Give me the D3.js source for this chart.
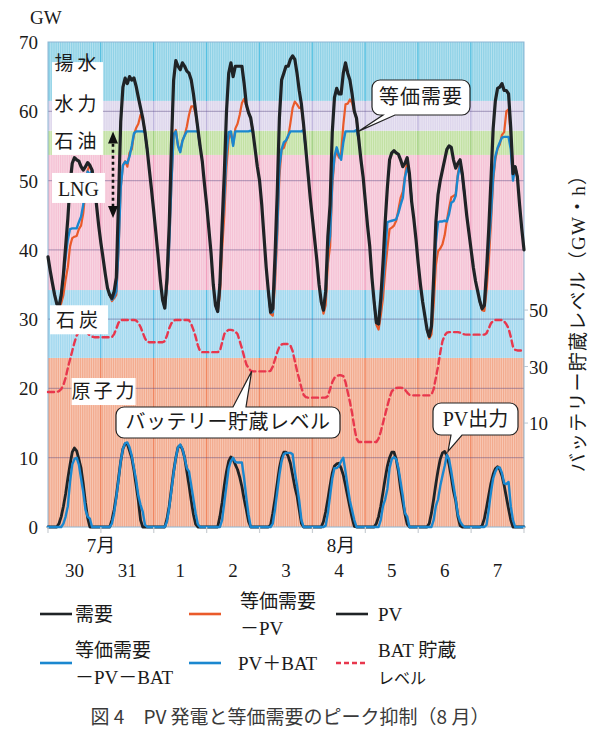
<!DOCTYPE html>
<html>
<head>
<meta charset="utf-8">
<script src="https://cdn.jsdelivr.net/npm/d3@7"></script>
<style>
  body { margin: 0; background: #fff; }
  text { font-family: "Liberation Serif", "Times New Roman", "Noto Sans CJK JP", serif; fill: #1a1a1a; }
</style>
</head>
<body>
<svg id="chart" width="599" height="729"></svg>
<script>
// ---- data (hourly, Jul 30 0:00 .. Aug 7 24:00) ----
var dayLabels = ["30", "31", "1", "2", "3", "4", "5", "6", "7"];
var monthLabels = ["7月", "8月"];
var leftTicks = [0, 10, 20, 30, 40, 50, 60, 70];
var rightTicks = [10, 30, 50];

// supply layers (GW, upper edge of each)
var bandNames = ["原子力", "石炭", "LNG", "石油", "水力", "揚水"];
var bandTops = [24.4, 34.2, 53.7, 57.2, 61.5, 70];

// 需要 (GW), one value per hour
var demand = [
  39.0,37.0,35.2,33.5,32.2,31.8,33.5,36.5,40.5,44.5,49.5,52.5,53.3,53.0,52.8,52.0,51.5,52.0,52.6,52.2,51.5,49.5,46.5,43.5,
  41.0,38.8,36.5,34.5,33.5,33.0,34.0,36.0,47.0,58.5,63.5,64.8,64.0,65.0,64.5,64.8,63.6,62.0,60.5,59.0,57.0,54.5,51.5,48.6,
  45.5,42.3,39.0,35.5,32.8,31.6,36.0,43.5,55.0,64.5,67.3,66.5,66.0,67.0,66.5,65.8,65.5,64.5,62.5,60.0,57.5,55.0,52.8,49.5,
  46.5,43.0,39.5,35.0,32.0,31.1,35.0,43.5,51.0,60.0,65.5,67.0,65.0,66.5,66.5,66.5,66.5,64.0,61.0,59.8,59.0,57.0,54.5,52.0,
  50.0,46.5,42.0,37.5,34.0,31.0,31.5,39.0,48.0,59.0,64.5,65.5,66.5,66.5,67.5,68.0,67.5,65.5,63.0,61.0,58.0,54.5,51.0,47.5,
  44.5,41.5,38.5,35.0,32.5,31.3,34.0,42.0,46.5,57.0,62.0,63.3,62.5,62.5,65.5,67.0,65.5,64.5,62.5,60.0,59.0,56.0,53.0,50.5,
  47.0,43.5,40.5,36.0,32.5,29.5,29.3,33.0,38.0,44.0,49.0,53.0,54.0,54.3,54.0,53.8,53.0,52.0,52.5,53.3,51.0,47.0,44.5,41.5,
  38.0,35.0,32.5,30.5,28.5,27.5,29.0,36.0,44.0,48.0,50.0,51.5,53.0,54.5,55.0,54.8,53.0,51.8,52.5,53.0,51.0,48.0,45.0,42.5,
  40.0,37.5,35.5,34.0,32.5,31.5,32.0,37.0,43.0,50.0,57.5,61.5,63.3,63.5,64.0,63.0,63.0,62.5,57.5,51.0,52.0,50.5,46.5,43.0,
  40.0
];

// daytime values, hours 4..21 of each day
var dayHourStart = 4;
var eqMinusPV = [
  [32.2,31.5,32.3,33.5,35.7,37.5,40.5,41.7,41.9,42.0,43.0,43.5,45.3,48.5,51.5,52.2,51.5,49.5],
  [33.5,32.6,33.0,33.5,40.0,49.0,52.2,52.8,52.0,54.0,54.5,56.6,57.6,58.2,59.5,59.0,57.0,54.5],
  [32.8,31.6,34.8,40.5,49.5,56.5,57.3,55.0,54.2,55.8,56.5,57.8,59.5,60.7,60.7,59.6,57.5,55.0],
  [32.0,31.1,33.5,40.0,45.0,52.0,56.0,56.9,55.2,57.5,58.2,59.5,61.2,61.8,60.8,59.8,59.0,57.0],
  [34.0,30.8,30.5,35.0,41.7,50.5,54.5,54.7,55.7,56.3,58.3,60.5,61.4,61.0,60.5,60.5,58.0,54.5],
  [32.5,30.8,32.0,38.0,40.5,49.2,53.2,54.2,53.3,54.0,58.0,61.0,61.1,61.7,61.2,59.9,59.0,56.0],
  [32.5,29.2,28.5,30.5,33.0,37.0,40.2,43.0,43.2,43.5,44.2,45.8,47.5,48.4,50.7,52.9,51.0,47.0],
  [28.5,27.2,27.8,32.0,37.8,39.8,40.2,40.8,42.1,44.2,46.0,47.6,47.8,48.0,51.0,52.8,51.0,48.0],
  [32.5,31.3,31.2,34.2,38.4,43.7,49.9,53.1,54.6,55.2,56.6,57.0,60.0,60.3,56.5,51.0,52.0,50.5]
];
var eqMinusPVBAT = [
  [32.2,31.8,33.5,36.0,39.0,41.5,43.0,43.1,43.1,43.1,44.0,44.8,46.5,49.5,51.3,50.8,51.5,49.5],
  [33.5,32.8,33.2,34.0,40.2,49.0,52.2,52.7,52.5,53.5,55.0,56.8,57.1,57.1,57.1,57.1,57.0,54.5],
  [32.8,31.6,35.2,40.7,49.7,56.7,57.1,55.0,54.1,55.7,56.5,57.1,57.1,57.1,57.1,57.1,57.1,55.0],
  [32.0,31.1,35.0,42.5,47.5,54.0,57.0,57.1,55.0,57.1,57.1,57.1,57.1,57.1,57.1,57.1,57.2,57.0],
  [34.0,31.0,31.0,36.5,43.0,52.0,54.5,55.5,55.8,56.5,57.1,57.1,57.1,57.1,57.1,57.1,57.3,54.5],
  [32.5,31.3,33.8,40.0,42.0,50.0,53.5,54.8,53.7,53.0,55.5,57.1,57.1,57.1,57.1,57.1,57.3,56.0],
  [32.5,29.5,29.3,32.0,35.0,39.5,44.0,44.1,44.2,44.3,44.4,45.3,46.5,47.5,50.5,51.8,51.0,47.0],
  [28.5,27.5,29.0,35.0,41.0,44.0,44.1,44.1,44.2,44.1,45.2,46.8,47.0,47.8,50.7,52.2,50.7,48.0],
  [32.5,31.5,32.0,36.7,40.5,45.0,50.5,53.5,54.7,55.5,56.2,56.3,56.3,56.3,54.5,50.0,52.0,50.5]
];
var pv = [
  [0,0.5,1.5,3.0,4.8,7.0,9.0,10.8,11.4,11.0,9.8,8.5,6.2,3.5,1.3,0,0,0],
  [0,1.0,2.5,4.5,7.0,9.5,11.3,12.0,12.0,11.0,10.0,8.2,6.0,3.8,1.0,0,0,0],
  [0,0,1.2,3.0,5.5,8.0,10.0,11.5,11.8,11.2,10.0,8.0,6.0,3.8,1.8,0.4,0,0],
  [0,0,1.5,3.5,6.0,8.0,9.5,10.1,9.8,9.0,8.3,7.2,5.8,4.0,2.5,0.8,0,0],
  [0,0.3,2.0,4.0,6.3,8.5,10.0,10.8,10.8,10.2,9.2,7.5,5.8,4.5,2.5,0.5,0,0],
  [0,0.8,2.2,4.0,6.0,7.8,8.8,9.1,9.2,8.5,7.5,6.0,4.4,2.8,1.3,0.1,0,0],
  [0,0.5,1.5,3.0,5.0,7.0,8.8,10.0,10.8,10.8,9.8,8.0,5.5,3.6,1.8,0.4,0,0],
  [0,0.5,2.0,4.0,6.2,8.2,9.8,10.7,10.9,10.3,9.0,7.2,5.2,3.8,1.5,0.2,0,0],
  [0,0.2,1.2,2.8,4.6,6.3,7.6,8.4,8.7,8.3,7.4,6.0,4.3,2.6,1.0,0,0,0]
];
var pvBat = [
  [0,0,0,0.5,1.5,3.0,6.5,9.0,9.8,10.0,9.0,7.0,5.0,2.5,1.5,1.2,0,0],
  [0,0.5,2.0,4.3,6.8,9.5,11.3,12.1,12.2,11.5,10.3,8.5,6.8,4.5,3.2,2.2,0.3,0],
  [0,0,0.8,2.8,5.3,7.8,10.0,11.5,11.9,11.3,10.0,8.5,8.0,6.0,4.0,2.0,0.4,0],
  [0,0,0,1.0,3.5,6.0,8.5,9.5,10.0,9.4,9.3,9.3,9.3,7.0,4.2,1.8,0,0],
  [0,0,0.5,2.5,5.0,7.5,9.5,10.5,10.7,10.7,10.7,10.5,8.0,6.0,3.8,1.0,0,0],
  [0,0,0.2,2.0,4.5,7.0,8.5,8.5,8.8,9.5,10.0,8.0,5.8,3.8,2.4,1.0,0,0],
  [0,0,0,1.0,3.0,4.0,5.5,8.5,9.8,10.1,9.8,8.5,6.5,4.5,2.0,1.5,0,0],
  [0,0,0,1.0,3.0,4.0,5.9,7.4,8.8,10.4,9.8,8.0,6.0,4.0,1.8,0.8,0.3,0],
  [0,0,0,0.3,2.5,5.0,7.0,8.0,8.6,8.6,7.8,6.3,6.2,6.5,3.0,1.0,0,0]
];

// BAT 貯蔵レベル (GW・h), one value per hour
var batLevel = [
  21.0,21.0,21.0,21.0,21.0,21.3,22.0,23.5,26.0,29.5,32.5,35.5,38.5,41.0,42.2,42.4,42.5,42.5,41.8,41.0,40.6,40.4,40.4,40.4,
  40.4,40.4,40.4,40.4,40.4,40.4,41.5,43.4,45.5,46.5,46.5,46.5,46.5,46.5,46.5,46.5,46.3,45.5,44.0,42.0,40.0,38.8,38.6,38.6,
  38.6,38.6,38.6,38.6,38.6,39.0,41.0,43.5,45.3,46.3,46.5,46.5,46.5,46.5,46.5,46.5,46.4,45.0,43.0,40.5,37.5,35.4,35.1,35.1,
  35.1,35.1,35.1,35.1,35.1,35.1,35.5,38.5,41.5,42.5,43.0,43.0,42.8,42.4,41.5,39.0,36.5,33.5,30.8,29.5,28.5,28.3,28.3,28.3,
  28.3,28.3,28.3,28.3,28.3,28.5,30.0,32.5,35.0,37.0,37.8,38.0,38.0,38.0,37.5,35.5,32.0,28.5,25.5,22.5,20.0,19.2,19.0,19.0,
  19.0,19.0,19.0,19.0,19.0,19.0,19.0,19.5,22.0,24.5,26.0,26.7,26.9,26.9,26.6,24.5,21.0,17.5,13.5,8.5,4.5,3.3,3.3,3.3,
  3.3,3.3,3.3,3.3,3.3,3.3,4.5,7.0,10.0,13.0,16.0,19.0,21.2,22.0,22.4,22.5,22.5,22.4,21.8,20.8,20.0,19.8,19.8,19.8,
  19.8,19.8,19.8,19.8,19.8,19.8,20.0,22.0,26.0,30.0,35.0,39.0,41.0,42.0,42.2,42.2,42.2,42.2,42.2,42.0,41.6,41.4,41.3,41.3,
  41.3,41.3,41.3,41.3,41.3,41.3,41.3,41.8,43.5,45.3,46.2,46.5,46.5,46.5,46.5,46.0,45.0,43.5,40.5,37.0,35.9,35.7,35.7,35.7,
  35.7
];

// ---- layout ----
var svg = d3.select("#chart")
  .attr("font-family", "'Liberation Serif', 'Times New Roman', 'Noto Sans CJK JP', serif");
var x = d3.scaleLinear().domain([0, 216]).range([48, 524]);
var y = d3.scaleLinear().domain([0, 70]).range([527, 42]);
var yR = d3.scaleLinear().domain([-26.8, 144.9]).range([527, 42]);

var bandColors = ["#f3ab8e", "#a2d8ef", "#f5c2d5", "#c2e1a3", "#ddd6ec", "#8fd2e7"];
var bandDark = ["#ee7448", "#3fb4e2", "#ef92b6", "#92c76f", "#b3a8d6", "#38b7dd"];

// bands
var plot = svg.append("g");
bandTops.forEach(function(top, i) {
  var bottom = i === 0 ? 0 : bandTops[i - 1];
  plot.append("rect")
    .attr("x", x(0)).attr("width", x(216) - x(0))
    .attr("y", y(top)).attr("height", y(bottom) - y(top))
    .attr("fill", bandColors[i]);
  // day grid lines in a darker shade of the band
  plot.selectAll(null)
    .data(d3.range(1, 9))
    .enter().append("line")
    .attr("x1", function(d) { return x(d * 24); })
    .attr("x2", function(d) { return x(d * 24); })
    .attr("y1", y(top)).attr("y2", y(bottom))
    .attr("stroke", bandDark[i]).attr("stroke-width", 1.2);
});

// fine vertical hatching (hourly)
plot.selectAll(null)
  .data(d3.range(1, 216))
  .enter().append("line")
  .attr("x1", function(d) { return x(d) + 0.5; })
  .attr("x2", function(d) { return x(d) + 0.5; })
  .attr("y1", y(70)).attr("y2", y(0))
  .attr("stroke", "#fff").attr("stroke-opacity", 0.45).attr("stroke-width", 0.8);

// horizontal grid
plot.selectAll(null)
  .data(leftTicks.slice(1, -1))
  .enter().append("line")
  .attr("x1", x(0)).attr("x2", x(216))
  .attr("y1", function(d) { return y(d); })
  .attr("y2", function(d) { return y(d); })
  .attr("stroke", "#5a4a82").attr("stroke-opacity", 0.4).attr("stroke-width", 1.3);

// frame
plot.append("rect")
  .attr("x", x(0)).attr("y", y(70))
  .attr("width", x(216) - x(0)).attr("height", y(0) - y(70))
  .attr("fill", "none").attr("stroke", "#8db6d3").attr("stroke-width", 1);

// ---- lines ----
var line = d3.line()
  .x(function(d) { return x(d[0]); })
  .y(function(d) { return y(d[1]); });

function daySeries(arr, d) {
  return arr.map(function(v, i) { return [d * 24 + dayHourStart + i, v]; });
}
function fullSeries(arr) {
  var out = d3.range(217).map(function(t) { return [t, 0]; });
  arr.forEach(function(dayVals, d) {
    dayVals.forEach(function(v, i) { out[d * 24 + dayHourStart + i][1] = v; });
  });
  return out;
}

var lines = svg.append("g").attr("fill", "none")
  .attr("stroke-linejoin", "round").attr("stroke-linecap", "round");

// BAT level (right axis)
lines.append("path")
  .attr("d", d3.line()
    .x(function(d, i) { return x(i); })
    .y(function(d) { return yR(d); })(batLevel))
  .attr("stroke", "#e8374d").attr("stroke-width", 2.4)
  .attr("stroke-dasharray", "6,4");

eqMinusPV.forEach(function(arr, d) {
  lines.append("path").attr("d", line(daySeries(arr, d)))
    .attr("stroke", "#ea5a2a").attr("stroke-width", 2.2);
});
eqMinusPVBAT.forEach(function(arr, d) {
  lines.append("path").attr("d", line(daySeries(arr, d)))
    .attr("stroke", "#1a87cf").attr("stroke-width", 2.4);
});
lines.append("path")
  .attr("d", line(demand.map(function(v, i) { return [i, v]; })))
  .attr("stroke", "#1f2326").attr("stroke-width", 3.2);

lines.append("path").attr("d", line(fullSeries(pv)))
  .attr("stroke", "#1f2326").attr("stroke-width", 2.8);
lines.append("path").attr("d", line(fullSeries(pvBat)))
  .attr("stroke", "#1a87cf").attr("stroke-width", 2.4);

// ---- axes ----
var ax = svg.append("g").attr("font-size", 19);
ax.selectAll(null).data(leftTicks).enter().append("text")
  .attr("x", 38).attr("y", function(d) { return y(d) + 7; })
  .attr("text-anchor", "end").text(function(d) { return d; });
ax.append("text").attr("x", 30).attr("y", 24).text("GW");

ax.selectAll(null).data(rightTicks).enter().append("text")
  .attr("x", 529).attr("y", function(d) { return yR(d) + 7; })
  .text(function(d) { return d; });
svg.selectAll(null).data(rightTicks).enter().append("line")
  .attr("x1", x(216)).attr("x2", x(216) + 4)
  .attr("y1", function(d) { return yR(d); })
  .attr("y2", function(d) { return yR(d); })
  .attr("stroke", "#b8c6d2");

ax.append("text")
  .attr("transform", "translate(585," + yR(47) + ") rotate(-90)")
  .attr("text-anchor", "middle").attr("font-size", 19)
  .attr("letter-spacing", 1.2)
  .text("バッテリー貯蔵レベル（GW・h）");

svg.selectAll(null).data(d3.range(0, 10)).enter().append("line")
  .attr("x1", function(d) { return x(d * 24); })
  .attr("x2", function(d) { return x(d * 24); })
  .attr("y1", y(0)).attr("y2", y(0) + 6)
  .attr("stroke", "#c9ced3").attr("stroke-width", 1.2);

ax.selectAll(null).data(dayLabels).enter().append("text")
  .attr("x", function(d, i) { return x(i * 24 + 12); })
  .attr("y", 577).attr("text-anchor", "middle")
  .text(function(d) { return d; });
ax.selectAll(null).data(monthLabels).enter().append("text")
  .attr("x", function(d, i) { return x(i === 0 ? 24 : 133); })
  .attr("y", 552).attr("text-anchor", "middle")
  .text(function(d) { return d; });

// ---- layer labels ----
var lab = svg.append("g").attr("font-size", 19);
function whiteBox(x0, y0, w, h) {
  lab.append("rect").attr("x", x0).attr("y", y0).attr("width", w).attr("height", h).attr("fill", "#fff");
}
whiteBox(x(1.8), y(67.1), 51, y(53.7) - y(67.1));
[["揚水", 66.3], ["水力", 60.4], ["石油", 55.0]].forEach(function(p) {
  lab.append("text").attr("x", x(1.8) + 25.5).attr("y", y(p[1]) + 2)
    .attr("text-anchor", "middle").attr("letter-spacing", 4).text(p[0]);
});
whiteBox(x(1.8), y(51.1), 53, 30);
lab.append("text").attr("x", x(1.8) + 26.5).attr("y", y(51.1) + 23)
  .attr("text-anchor", "middle").attr("font-size", 20).text("LNG");
whiteBox(x(0.9), y(32.0), 58, 29);
lab.append("text").attr("x", x(0.9) + 29).attr("y", y(32.0) + 22)
  .attr("text-anchor", "middle").attr("letter-spacing", 4).text("石炭");
whiteBox(x(10.7), y(21.5), 64, 27);
lab.append("text").attr("x", x(10.7) + 33).attr("y", y(21.5) + 20)
  .attr("text-anchor", "middle").attr("letter-spacing", 3).text("原子力");

// dotted double arrow (LNG range)
var ax0 = x(29.5);
svg.append("line").attr("x1", ax0).attr("x2", ax0)
  .attr("y1", y(55.3)).attr("y2", y(46.3))
  .attr("stroke", "#111").attr("stroke-width", 2.6).attr("stroke-dasharray", "3,3");
svg.append("path")
  .attr("d", "M" + ax0 + "," + y(57.1) + "l-5,12h10z" + "M" + ax0 + "," + y(44.6) + "l-5,-12h10z")
  .attr("fill", "#111");

// ---- callouts ----
function callout(bx, by, bw, bh, edge, p1, p2, tx, ty) {
  var r = 8, p = d3.path();
  p.moveTo(bx + r, by);
  if (edge === "top") { p.lineTo(p1, by); p.lineTo(tx, ty); p.lineTo(p2, by); }
  p.lineTo(bx + bw - r, by);
  p.arcTo(bx + bw, by, bx + bw, by + r, r);
  p.lineTo(bx + bw, by + bh - r);
  p.arcTo(bx + bw, by + bh, bx + bw - r, by + bh, r);
  if (edge === "bottom") { p.lineTo(p2, by + bh); p.lineTo(tx, ty); p.lineTo(p1, by + bh); }
  p.lineTo(bx + r, by + bh);
  p.arcTo(bx, by + bh, bx, by + bh - r, r);
  p.lineTo(bx, by + r);
  p.arcTo(bx, by, bx + r, by, r);
  p.closePath();
  svg.append("path").attr("d", p.toString())
    .attr("fill", "#fff").attr("stroke", "#222").attr("stroke-width", 1.2);
}
callout(372, 80, 98, 35, "bottom", 383, 395, x(140.8), y(57.1));
svg.append("text").attr("x", 421).attr("y", 104).attr("font-size", 20)
  .attr("text-anchor", "middle").attr("letter-spacing", 1).text("等価需要");

callout(116, 407, 224, 31, "top", 233, 246, x(92.4), yR(28.3));
svg.append("text").attr("x", 228).attr("y", 429).attr("font-size", 20)
  .attr("text-anchor", "middle").attr("letter-spacing", 0.5).text("バッテリー貯蔵レベル");

callout(433, 403, 85, 32, "bottom", 451, 462, x(181.5), y(10.9));
svg.append("text").attr("x", 475.5).attr("y", 426).attr("font-size", 20)
  .attr("text-anchor", "middle").text("PV出力");

// ---- legend ----
var legendRows = [
  { c: "#1f2326", dash: null, x: 40, y: 614, lab: ["需要"], tx: 75 },
  { c: "#ea5a2a", dash: null, x: 189, y: 614, lab: ["等価需要", "－PV"], tx: 240 },
  { c: "#1f2326", dash: null, x: 336, y: 614, lab: ["PV"], tx: 378 },
  { c: "#1a87cf", dash: null, x: 40, y: 663, lab: ["等価需要", "－PV－BAT"], tx: 75 },
  { c: "#1a87cf", dash: null, x: 189, y: 663, lab: ["PV＋BAT"], tx: 238 },
  { c: "#e8374d", dash: "5,3", x: 336, y: 663, lab: ["BAT 貯蔵", "レベル"], tx: 378 }
];
var lg = svg.append("g").attr("font-size", 19);
legendRows.forEach(function(r) {
  lg.append("line").attr("x1", r.x).attr("x2", r.x + 32)
    .attr("y1", r.y).attr("y2", r.y)
    .attr("stroke", r.c).attr("stroke-width", 2.6)
    .attr("stroke-dasharray", r.dash);
  if (r.lab.length === 1) {
    lg.append("text").attr("x", r.tx).attr("y", r.y + 7).text(r.lab[0]);
  } else {
    lg.append("text").attr("x", r.tx).attr("y", r.y - 6).text(r.lab[0]);
    lg.append("text").attr("x", r.tx).attr("y", r.y + 21)
      .attr("font-size", r.lab[1] === "レベル" ? 16 : 19).text(r.lab[1]);
  }
});

// caption
svg.append("text").attr("x", 290).attr("y", 724)
  .attr("text-anchor", "middle").attr("font-size", 19)
  .style("font-family", "'Noto Sans CJK JP', sans-serif").style("fill", "#3a3a3a")
  .text("図 4　PV 発電と等価需要のピーク抑制（8 月）");
</script>
</body>
</html>
